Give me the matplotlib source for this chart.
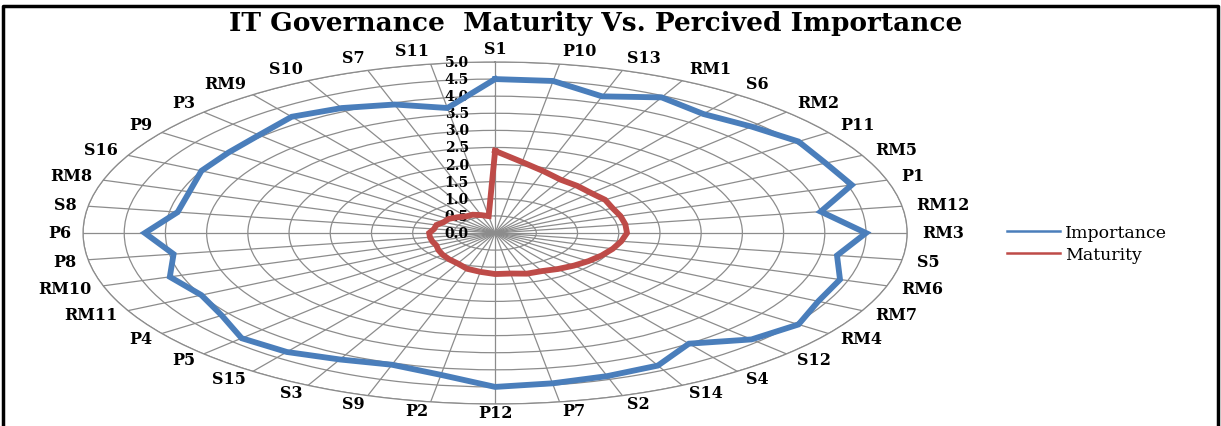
"""Radar chart: IT governance maturity vs. perceived importance (40 items)."""

import matplotlib

matplotlib.use("Agg")

import matplotlib.pyplot as plt
import numpy as np
from matplotlib.lines import Line2D

TITLE = "IT Governance  Maturity Vs. Percived Importance"

categories = [
    "S1", "P10", "S13", "RM1", "S6", "RM2", "P11", "RM5", "P1", "RM12",
    "RM3", "S5", "RM6", "RM7", "RM4", "S12", "S4", "S14", "S2", "P7",
    "P12", "P2", "S9", "S3", "S15", "P5", "P4", "RM11", "RM10", "P8",
    "P6", "S8", "RM8", "S16", "P9", "P3", "RM9", "S10", "S7", "S11",
]
importance = [
    4.5, 4.5, 4.2, 4.45, 4.3, 4.4, 4.55, 4.5, 4.55, 4.0,
    4.5, 4.2, 4.4, 4.4, 4.55, 4.4, 4.0, 4.35, 4.4, 4.45,
    4.5, 4.2, 4.05, 4.15, 4.3, 4.35, 4.1, 4.0, 4.15, 3.95,
    4.25, 3.9, 3.9, 4.0, 4.0, 4.05, 4.2, 4.1, 3.95, 3.7,
]
maturity = [
    2.4, 2.1, 1.9, 1.75, 1.7, 1.65, 1.65, 1.6, 1.6, 1.6,
    1.6, 1.55, 1.5, 1.45, 1.4, 1.35, 1.3, 1.25, 1.25, 1.2,
    1.2, 1.15, 1.1, 1.0, 0.95, 0.9, 0.85, 0.8, 0.8, 0.8,
    0.8, 0.75, 0.75, 0.7, 0.7, 0.65, 0.6, 0.6, 0.55, 0.5,
]
r_ticks = [0.0, 0.5, 1.0, 1.5, 2.0, 2.5, 3.0, 3.5, 4.0, 4.5, 5.0]

BLUE = "#4A7EBB"
RED = "#BE4B48"
GRID = "#8c8c8c"
SERIF = "DejaVu Serif"

fig = plt.figure(figsize=(12.21, 4.27), dpi=100)
ax = fig.add_axes([0.068, 0.0515, 0.675, 0.801], projection="polar")
ax.set_aspect("auto")  # stretched radar, like the source
ax.set_theta_zero_location("N")
ax.set_theta_direction(-1)

theta = np.linspace(0, 2 * np.pi, len(categories), endpoint=False)
closed = np.append(theta, theta[0])

ax.plot(closed, importance + importance[:1], color=BLUE, lw=4.2,
        solid_joinstyle="miter", label="Importance", zorder=4)
ax.plot(closed, maturity + maturity[:1], color=RED, lw=4.2,
        solid_joinstyle="miter", label="Maturity", zorder=4)

ax.set_ylim(0, 5)
ax.set_xticks(theta)
ax.set_xticklabels([])
ax.set_yticks(r_ticks[1:])
ax.set_yticklabels([])
ax.grid(True, color=GRID, lw=0.9)
ax.spines["polar"].set_color(GRID)
ax.spines["polar"].set_linewidth(0.9)
ax.tick_params(length=0)

# value labels up the first spoke
for v in r_ticks:
    ax.annotate(f"{v:.1f}", xy=(0, v), xytext=(-19, 0),
                textcoords="offset points", ha="right", va="center",
                fontsize=10, fontweight="bold", family=SERIF)

# category labels round the rim
for ang, name in zip(theta, categories):
    s, c = np.sin(ang), np.cos(ang)
    ha = "left" if s > 0.05 else ("right" if s < -0.05 else "center")
    dx = 10.5 * s if s > 0 else 8.5 * s
    dy = 10 * c if c > 0 else 6 * c
    ax.annotate(name, xy=(ang, 5.0), xytext=(dx, dy),
                textcoords="offset points", ha=ha, va="center",
                fontsize=11.5, fontweight="bold", family=SERIF)

fig.text(0.488, 0.944, TITLE, ha="center", va="center",
         fontsize=19, fontweight="bold", family=SERIF)

handles = [Line2D([], [], color=BLUE, lw=1.8), Line2D([], [], color=RED, lw=1.8)]
fig.legend(handles, ["Importance", "Maturity"], loc="center left",
           bbox_to_anchor=(0.818, 0.428), frameon=False, borderpad=0,
           handlelength=3.0, handletextpad=0.3, labelspacing=0.3,
           prop={"family": SERIF, "size": 12.5})

# black frame (left, top, right)
fig.add_artist(Line2D([0.0025, 0.0025, 0.9975, 0.9975], [0, 0.984, 0.984, 0],
                      transform=fig.transFigure, color="black", lw=2.5))

fig.savefig("out.png", dpi=100)
